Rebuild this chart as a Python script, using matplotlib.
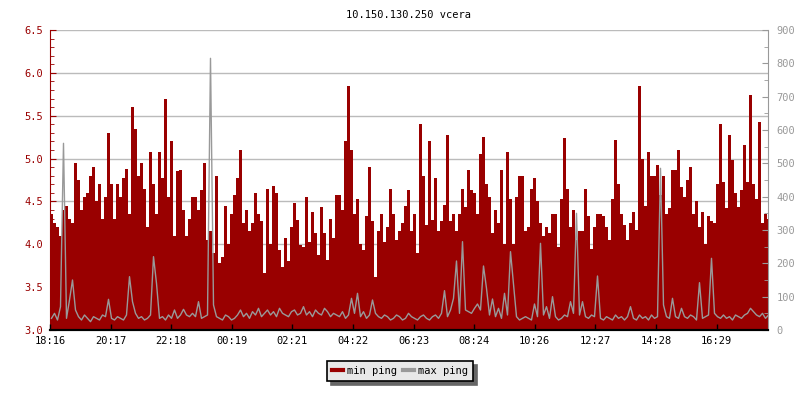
import matplotlib
matplotlib.use("Agg")
import matplotlib.pyplot as plt
import numpy as np
from matplotlib.lines import Line2D
from matplotlib.ticker import MultipleLocator, FormatStrFormatter

title = "10.150.130.250 vcera"
time_labels = ["18:16", "20:17", "22:18", "00:19", "02:21", "04:22",
               "06:23", "08:24", "10:26", "12:27", "14:28", "16:29"]

# min ping (left axis), one value per 6 minutes
min_ping = [
    4.35, 4.25, 4.2, 4.1, 4.4, 4.45, 4.3, 4.25, 4.95, 4.75, 4.4, 4.55,
    4.6, 4.8, 4.9, 4.5, 4.7, 4.3, 4.55, 5.3, 4.7, 4.3, 4.7, 4.55,
    4.77, 4.88, 4.35, 5.6, 5.35, 4.8, 4.95, 4.65, 4.2, 5.08, 4.7, 4.35,
    5.08, 4.77, 5.7, 4.55, 5.2, 4.1, 4.85, 4.87, 4.4, 4.1, 4.3, 4.55,
    4.55, 4.4, 4.63, 4.95, 4.05, 4.15, 3.9, 4.8, 3.78, 3.85, 4.45, 4.0,
    4.35, 4.57, 4.77, 5.1, 4.25, 4.4, 4.15, 4.25, 4.6, 4.35, 4.27, 3.66,
    4.65, 4.0, 4.68, 4.6, 3.93, 3.74, 4.07, 3.8, 4.2, 4.48, 4.28, 3.99,
    3.97, 4.55, 4.03, 4.38, 4.13, 3.88, 4.44, 4.13, 3.82, 4.3, 4.07, 4.57,
    4.58, 4.4, 5.2, 5.85, 5.1, 4.35, 4.53, 4.0, 3.93, 4.33, 4.9, 4.27,
    3.62, 4.15, 4.35, 4.03, 4.2, 4.65, 4.35, 4.05, 4.15, 4.25, 4.45, 4.63,
    4.15, 4.35, 3.9, 5.4, 4.8, 4.22, 5.2, 4.28, 4.77, 4.15, 4.27, 4.46,
    5.27, 4.27, 4.35, 4.15, 4.35, 4.65, 4.44, 4.87, 4.63, 4.6, 4.35, 5.05,
    5.25, 4.7, 4.55, 4.13, 4.4, 4.25, 4.87, 4.0, 5.08, 4.53, 4.0, 4.55,
    4.8, 4.8, 4.15, 4.2, 4.65, 4.77, 4.5, 4.25, 4.1, 4.2, 4.13, 4.35,
    4.35, 3.97, 4.53, 5.24, 4.65, 4.2, 4.4, 4.05, 4.15, 4.15, 4.65, 4.33,
    3.95, 4.2, 4.35, 4.35, 4.33, 4.2, 4.05, 4.53, 5.22, 4.7, 4.35, 4.22,
    4.05, 4.25, 4.38, 4.17, 5.85, 5.0, 4.45, 5.08, 4.8, 4.8, 4.93, 4.57,
    4.8, 4.35, 4.42, 4.87, 4.87, 5.1, 4.67, 4.55, 4.75, 4.9, 4.35, 4.5,
    4.2, 4.38, 4.0, 4.33, 4.27, 4.25, 4.7, 5.4, 4.73, 4.42, 5.27, 4.98,
    4.6, 4.44, 4.63, 5.16, 4.73, 5.74, 4.7, 4.53, 5.43, 4.25, 4.35, 4.3,
]

# max ping (right axis)
max_ping = [
    35, 50, 30, 70, 560, 35, 90, 150, 60, 40, 30, 45,
    35, 25, 40, 35, 30, 45, 40, 92, 35, 30, 40, 35,
    30, 45, 160, 85, 50, 35, 40, 30, 35, 45, 220, 140,
    35, 40, 30, 45, 35, 60, 35, 45, 62, 45, 40, 50,
    40, 85, 35, 40, 45, 815, 75, 40, 35, 30, 45, 40,
    30, 35, 45, 60, 40, 50, 35, 55, 45, 65, 40, 50,
    60, 45, 55, 40, 65, 50, 45, 40, 55, 60, 45, 50,
    70, 45, 55, 40, 60, 50, 45, 65, 55, 40, 50, 45,
    40, 55, 35, 45, 95, 50, 110, 40, 55, 35, 45, 90,
    50, 40, 35, 45, 40, 30, 35, 45, 40, 30, 35, 50,
    40, 35, 30, 40, 45, 35, 30, 40, 45, 35, 50, 118,
    40, 60, 95, 207, 50, 265, 60, 55, 50, 65, 78, 60,
    192, 125, 45, 93, 40, 65, 35, 110, 45, 235, 138, 40,
    30, 35, 40, 35, 30, 78, 40, 260, 45, 70, 35, 100,
    40, 30, 35, 45, 40, 85, 50, 350, 45, 85, 40, 35,
    45, 40, 162, 35, 30, 40, 35, 30, 45, 35, 40, 30,
    40, 70, 35, 30, 45, 35, 40, 30, 45, 35, 40, 485,
    75, 40, 35, 95, 40, 35, 65, 40, 35, 45, 40, 30,
    142, 35, 40, 45, 215, 50, 40, 35, 45, 35, 40, 30,
    45, 40, 35, 45, 50, 65, 55, 45, 40, 50, 35, 45,
]

RED = "#990000"
GRAY = "#999999"

plt.rcParams["font.family"] = ["DejaVu Sans Mono"]
plt.rcParams["font.size"] = 7.5

step = 6  # minutes per sample
x = np.arange(len(min_ping)) * step
tick_pos = np.arange(len(time_labels)) * 121.2

fig = plt.figure(figsize=(8, 4), dpi=100)
ax = fig.add_axes([0.0625, 0.175, 0.8975, 0.75])

ax.bar(x, np.array(min_ping) - 3.0, bottom=3.0, width=step, align="edge",
       color=RED, linewidth=0)
ax.set_xlim(0, 1436)
ax.set_ylim(3.0, 6.5)
ax.set_axisbelow(True)
ax.xaxis.set_zorder(2.5)
ax.grid(axis="y", color="#bbbbbb", linewidth=1)

ax.yaxis.set_major_locator(MultipleLocator(0.5))
ax.yaxis.set_minor_locator(MultipleLocator(0.1))
ax.yaxis.set_major_formatter(FormatStrFormatter("%.1f"))
ax.tick_params(axis="y", which="both", direction="in", colors=RED,
               labelcolor=RED, pad=5)
ax.tick_params(axis="y", which="major", length=4)
ax.tick_params(axis="y", which="minor", length=3)
ax.set_xticks(tick_pos)
ax.set_xticklabels(time_labels)
ax.tick_params(axis="x", direction="in", length=4, width=1, colors="black", pad=4)

ax.spines["left"].set_color(RED)
ax.spines["right"].set_visible(False)
ax.spines["top"].set_visible(False)
ax.spines["bottom"].set_color("black")
ax.spines["bottom"].set_linewidth(1.5)

ax2 = ax.twinx()
ax2.plot(x + step / 2, max_ping, color=GRAY, linewidth=1)
ax2.set_ylim(0, 900)
ax2.yaxis.set_major_locator(MultipleLocator(100))
ax2.yaxis.set_minor_locator(MultipleLocator(50))
ax2.tick_params(axis="y", which="both", direction="in", colors=GRAY,
                labelcolor=GRAY, pad=6)
ax2.tick_params(axis="y", which="major", length=4)
ax2.tick_params(axis="y", which="minor", length=3)
ax2.spines["left"].set_visible(False)
ax2.spines["top"].set_visible(False)
ax2.spines["right"].set_color(GRAY)
ax2.spines["bottom"].set_color("black")
ax2.spines["bottom"].set_linewidth(1.5)

ax.set_title(title, fontsize=7.5, pad=9)

handles = [Line2D([], [], color=RED, linewidth=3),
           Line2D([], [], color=GRAY, linewidth=3)]
leg = fig.legend(handles, ["min ping", "max ping"], loc="center",
                 bbox_to_anchor=(0.5, 0.0725), ncol=2, fontsize=7.5,
                 frameon=True, fancybox=False,
                 shadow={"color": "#666666", "alpha": 1.0, "ox": 3, "oy": -3},
                 edgecolor="black", facecolor="#e8e8e8", framealpha=1,
                 handlelength=1.0, handletextpad=0.4, columnspacing=0.6,
                 borderpad=0.5)
leg.get_frame().set_linewidth(1.2)

fig.savefig("out.png", dpi=100)
